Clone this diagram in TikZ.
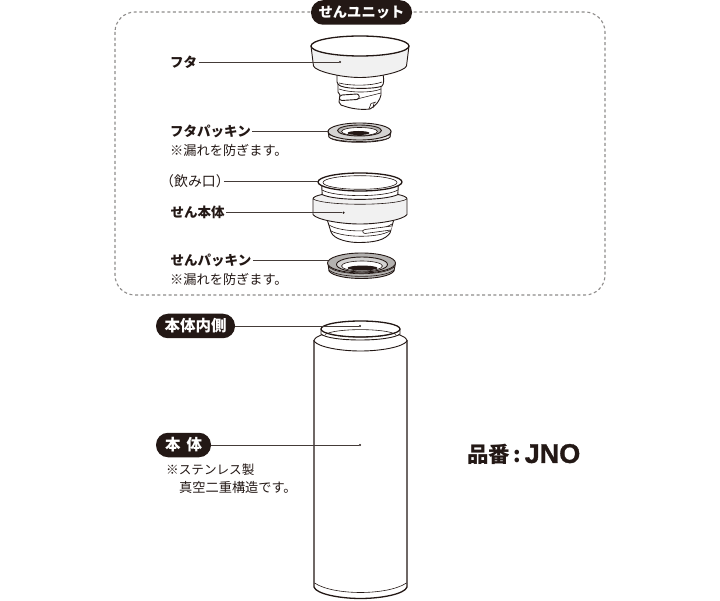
\documentclass[tikz,border=0pt]{standalone}
\usepackage{fontspec}
\setmainfont{Noto Sans CJK JP}
\newfontfamily\latinfont[FakeBold=1.2]{Liberation Sans Bold}
\definecolor{ink}{HTML}{231815}
\definecolor{band}{HTML}{F1F1F1}
\definecolor{rubber}{HTML}{B4B2B0}
\definecolor{rubberlight}{HTML}{D4D3D2}
\definecolor{dashgray}{HTML}{8E8C8B}
\tikzset{
  part/.style={draw=ink,line width=0.9pt,line join=round},
  thick part/.style={draw=ink,line width=1.3pt,line join=round},
  thin part/.style={draw=ink,line width=0.6pt},
  pill/.style={rounded corners=12pt,fill=ink,text=white,font=\bfseries,inner sep=0pt,minimum height=24.5pt,align=center},
  lab/.style={anchor=west,font=\fontsize{13.5}{14}\bfseries\selectfont,inner sep=1.5pt,text=ink},
  plainlab/.style={anchor=west,font=\fontsize{13.9}{14}\selectfont,inner sep=0pt,text=ink},
  notelab/.style={anchor=west,font=\fontsize{13.2}{14}\selectfont,inner sep=0pt,text=ink},
  leader/.style={draw=ink!85,line width=0.8pt},
  pin/.style={circle,fill=ink,inner sep=0pt,minimum size=2.4pt},
}
\begin{document}
\begin{tikzpicture}[x=1pt,y=-1pt]
\useasboundingbox (0,0) rectangle (720,601);
\fill[white] (0,0) rectangle (720,601);

% dashed frame
\draw[dashgray,line width=1.1pt,dash pattern=on 3pt off 2.6pt,rounded corners=20pt] (115,12) rectangle (605,295);

% --- lid thread
\path[part,fill=white] (338,84) -- (338,92) -- (340,95) -- (339,102) .. controls (340,105) and (342,106) .. (344,106) .. controls (352,109) and (362,110) .. (370,109) .. controls (376,106) and (380,100) .. (381,95) -- (381,84) -- cycle;
\path[part,fill=white] (337,74) -- (337,82) .. controls (338,86) and (342,87) .. (350,88) .. controls (365,89) and (378,88) .. (382,86) .. controls (384,84) and (384,80) .. (383,74) -- cycle;
\draw[thin part] (339,89) .. controls (350,93) and (372,93) .. (381,89);
\draw[thin part] (339,83) .. controls (350,86) and (372,86) .. (382,82);
\path[part,fill=white] (342,95) -- (357,94) .. controls (360,94.5) and (360,99) .. (357,99.5) -- (342,100.5) .. controls (339,100.5) and (338,96) .. (342,95) -- cycle;
\draw[thin part] (357,99) -- (381,93);
\draw[thin part] (369,109) -- (371,103.5) -- (376,102);
\draw[thin part] (373,108) -- (374,103);
% --- lid
\path[part,fill=band] (311,46) -- (313.5,66) .. controls (315,71) and (340,77.5) .. (360,77.5) .. controls (380,77.5) and (405,71) .. (406.5,66) -- (409,46) -- cycle;
\path[thick part,fill=white] (360,46) ellipse [x radius=49,y radius=10];

% --- lid gasket
\path[part,fill=rubber] (328,131) -- (329,137) .. controls (334,144) and (384,144) .. (390,137) -- (391,131) -- cycle;
\draw[thin part,fill=white!70!rubber] (329,134) .. controls (335,140.5) and (384,140.5) .. (390,134) -- (390,137) .. controls (384,143) and (335,143) .. (329,137) -- cycle;
\path[part,fill=rubberlight] (359.5,131.5) ellipse [x radius=31.5,y radius=8.5];
\path[part,fill=rubber] (359.5,130.5) ellipse [x radius=22,y radius=5.5];
\path[thin part,fill=white] (359.5,131.5) ellipse [x radius=18,y radius=4];
\path[fill=ink] (358.5,133) ellipse [x radius=11,y radius=2];

% --- plug body threads
\path[part,fill=white] (327,219) -- (331,232) .. controls (334,240) and (350,242.5) .. (358,242.5) .. controls (375,242.5) and (385,240) .. (390,233) -- (394,219) -- cycle;
\draw[thin part] (329,225) .. controls (342,233) and (378,233) .. (392,224);
\draw[thin part] (331,231) .. controls (345,238) and (378,238) .. (390,231);
\path[thin part,fill=white] (392,226) -- (365,229.5) .. controls (362,230) and (362,233) .. (365,233.5) -- (391,230);

% --- plug body neck and collar
\path[part,fill=white] (321.5,182) -- (322.5,200) -- (397.5,200) -- (398.5,182) -- cycle;
\path[part,fill=band] (313,199) -- (313,214.5) .. controls (316,219.5) and (340,224) .. (360,224) .. controls (380,224) and (404,219.5) .. (407,214.5) -- (407,199) .. controls (407,197) and (403,195.5) .. (398,194.5) .. controls (385,201) and (335,201) .. (322,194.5) .. controls (317,195.5) and (313,197) .. (313,199) -- cycle;
\draw[thin part] (313,199) .. controls (325,206) and (395,206) .. (407,199);
\draw[thin part] (322,190) .. controls (335,197.5) and (385,197.5) .. (398,190);
\path[thick part,fill=white] (360,182) ellipse [x radius=42,y radius=9];
\path[thin part,fill=white] (360,182.5) ellipse [x radius=37,y radius=6.8];

% --- plug gasket
\path[part,fill=rubber] (328,263) -- (329,271) .. controls (336,281) and (387,281) .. (394,271) -- (395.5,263) -- cycle;
\draw[thin part] (329,267) .. controls (338,276) and (385,276) .. (394,267);
\draw[thin part] (329,270) .. controls (338,278.5) and (385,278.5) .. (394,270);
\path[part,fill=rubber] (361.5,263) ellipse [x radius=34,y radius=10];
\path[part,fill=rubberlight] (362,264.5) ellipse [x radius=25.5,y radius=7.5];
\path[thin part,fill=white] (362,266) ellipse [x radius=20.5,y radius=5];
\path[fill=ink] (362.5,268) ellipse [x radius=15,y radius=2.4];

% --- bottle
\path[thick part,fill=white] (314,340) -- (314,587) .. controls (316,594) and (340,598.5) .. (360.5,598.5) .. controls (381,598.5) and (405,594) .. (407,587) -- (407,340);
\draw[thin part] (314.5,583) .. controls (325,590) and (345,592.5) .. (360.5,592.5) .. controls (376,592.5) and (396,590) .. (406.5,583);
\path[part,fill=white] (321,335) .. controls (318,336) and (314.5,338) .. (314,341) .. controls (318,347) and (340,351) .. (360.5,351) .. controls (381,351) and (403,347) .. (407,341) .. controls (406.5,338) and (403,336) .. (400,335) -- cycle;
\path[part,fill=white] (321,329) -- (321,334) .. controls (330,342) and (390,342) .. (400,334) -- (400,329) -- cycle;
\path[thick part,fill=white] (360.5,329) ellipse [x radius=39.5,y radius=8];
\draw[thin part] (325,334.5) .. controls (335,328) and (386,328) .. (396,334.5);
\draw[thin part] (331,334) .. controls (340,338) and (381,338) .. (390,334);

% --- anchor points of the leaders
\node[pin] (pLid) at (340,62) {};
\coordinate (pLidGasket) at (328.5,131.5);
\coordinate (pMouth) at (318,181.7);
\node[pin] (pPlug) at (343.5,212.7) {};
\coordinate (pPlugGasket) at (328,260.7);
\node[pin] (pInner) at (360,326) {};
\node[pin] (pBody) at (360,445) {};

% --- labels
\node[pill,minimum width=101pt,font=\fontsize{14.3}{15}\bfseries\selectfont] (unit) at (361.5,12.5) {せんユニット};
\node[lab] (lid) at (168.5,62) {フタ};
\node[lab] (lidgasket) at (168.5,131.5) {フタパッキン};
\node[notelab] (note1) at (170,150.5) {※漏れを防ぎます。};
\node[plainlab,inner xsep=-6pt] (mouth) at (166,181.7) {（飲み口）};
\node[lab] (plug) at (169,212.7) {せん本体};
\node[lab] (pluggasket) at (169,260.7) {せんパッキン};
\node[notelab] (note2) at (170,279.5) {※漏れを防ぎます。};
\node[pill,minimum width=79pt,font=\fontsize{15.5}{16}\bfseries\selectfont] (inner) at (195.5,326) {本体内側};
\node[pill,minimum width=55pt,font=\fontsize{15.5}{16}\bfseries\selectfont] (body) at (183.5,445) {本\hspace{6pt}体};
\node[notelab,font=\fontsize{12.6}{14}\selectfont] (note3) at (166,470) {※ステンレス製};
\node[notelab] (note4) at (179,487.5) {真空二重構造です。};
\node[anchor=west,inner sep=0pt,text=ink,font=\fontsize{21.5}{24}\bfseries\selectfont] (code) at (467,454.5) {品番\hspace{3.5pt}:\hspace{3.5pt}{\latinfont\fontsize{27}{24}\selectfont JNO}};

% --- leaders
\draw[leader] (lid.east) -- (pLid);
\draw[leader] (lidgasket.east) -- (pLidGasket);
\draw[leader] (mouth.east) -- (pMouth);
\draw[leader] (plug.east) -- (pPlug);
\draw[leader] (pluggasket.east) -- (pPlugGasket);
\draw[leader] (inner.east) -- (pInner);
\draw[leader] (body.east) -- (pBody);
\end{tikzpicture}
\end{document}
